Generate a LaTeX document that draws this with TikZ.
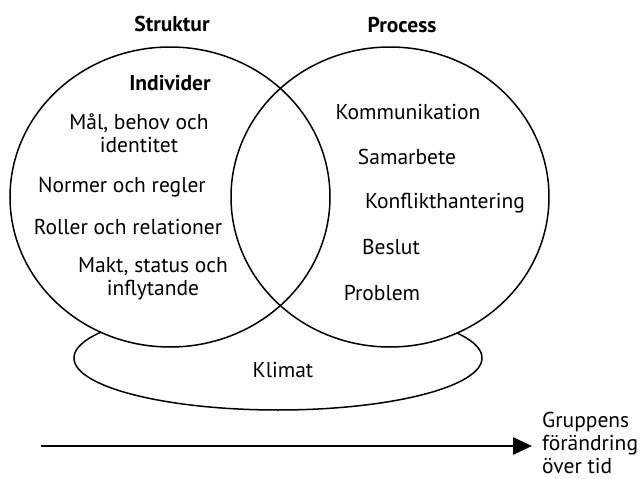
\documentclass[tikz,border=0pt]{standalone}
\usepackage{fontspec}
\setmainfont{PT Sans}
\usetikzlibrary{arrows.meta}

\tikzset{
  lbl/.style={font=\fontsize{21.5}{23}\selectfont, inner sep=1pt, align=center},
  head/.style={font=\fontsize{21.5}{23}\selectfont\bfseries, inner sep=1pt},
  ring/.style={line width=1.5pt},
  timearrow/.style={line width=2.7pt, -{Triangle[length=19pt,width=17pt]}}
}

\begin{document}
\begin{tikzpicture}[x=1pt,y=-1pt]
\useasboundingbox (0,0) rectangle (641,479);

% klimat underneath
\draw[ring] (278,358) ellipse [x radius=204, y radius=52];
\node[lbl] (klimat) at (283,370) {Klimat};

% the two circles
\fill[white] (170,197) ellipse [x radius=160, y radius=150];
\fill[white] (390,197) ellipse [x radius=159, y radius=150];
\draw[ring] (170,197) ellipse [x radius=160, y radius=150];
\draw[ring] (390,197) ellipse [x radius=159, y radius=150];

\node[head] (struktur) at (172,24) {Struktur};
\node[head] (process) at (402,25) {Process};

% struktur side
\node[head] (indiv) at (170,83) {Individer};
\node[lbl] (mal) at (139,133) {Mål, behov och\\identitet};
\node[lbl] (normer) at (122,187) {Normer och regler};
\node[lbl] (roller) at (128,227) {Roller och relationer};
\node[lbl] (makt) at (153,279) {Makt, status och\\inflytande};

% process side
\node[lbl] (komm) at (408,112) {Kommunikation};
\node[lbl] (samarb) at (407,157) {Samarbete};
\node[lbl] (konfl) at (445,203) {Konflikthantering};
\node[lbl] (beslut) at (391,247) {Beslut};
\node[lbl] (problem) at (382,293) {Problem};

% time
\node[lbl, align=left, anchor=west, inner sep=0pt] (change) at (542,443)
  {Gruppens\\förändring\\över tid};
\coordinate (tstart) at (41,446);
\draw[timearrow] (tstart) -- ([xshift=-10pt]tstart -| change.west);
\end{tikzpicture}
\end{document}
